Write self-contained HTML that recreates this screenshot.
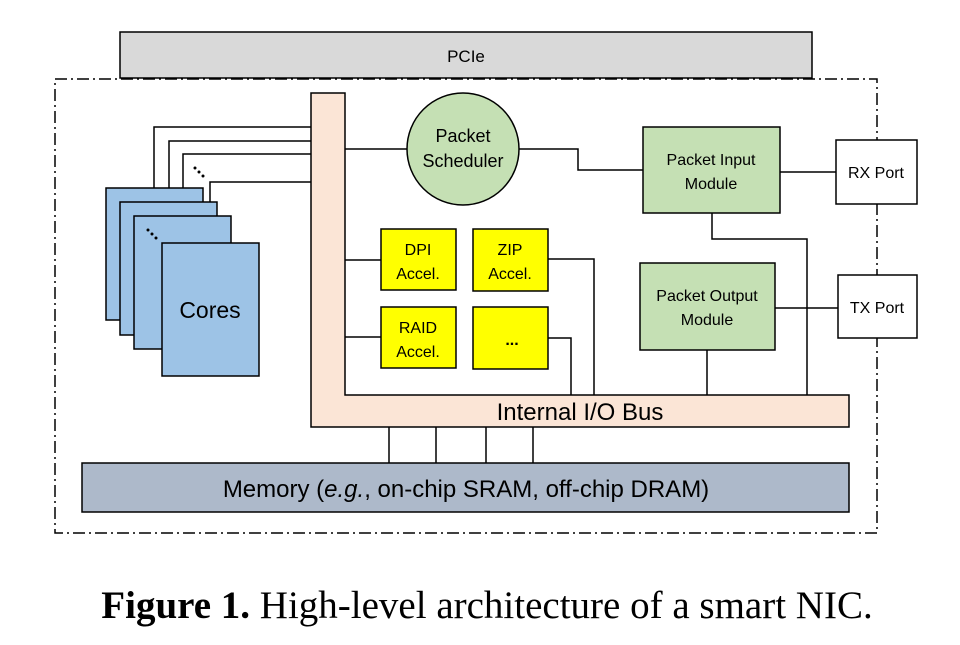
<!DOCTYPE html>
<html><head><meta charset="utf-8"><style>
body{margin:0;background:#fff;width:960px;height:640px;overflow:hidden}
text{font-family:"Liberation Sans",sans-serif;fill:#000}
</style></head><body>
<svg width="960" height="640" viewBox="0 0 960 640" xmlns="http://www.w3.org/2000/svg">
<rect x="120" y="32" width="692" height="46" fill="#d9d9d9" stroke="#000" stroke-width="1.5"/>
<text x="466" y="62" font-size="17" text-anchor="middle">PCIe</text>
<rect x="55" y="79" width="822" height="454" fill="none" stroke="#000" stroke-width="1.5" stroke-dasharray="12,4,2,4"/>
<g stroke="#000" stroke-width="1.5" fill="none">
<polyline points="154,188 154,127 311,127"/>
<polyline points="169,202 169,141 311,141"/>
<polyline points="183,216 183,154 311,154"/>
<polyline points="210,243 210,182 311,182"/>
</g>
<g stroke="#000" stroke-width="1.5" fill="#9dc3e6">
<rect x="106" y="188" width="97" height="132"/>
<rect x="120" y="202" width="97" height="133"/>
<rect x="134" y="216" width="97" height="133"/>
<rect x="162" y="243" width="97" height="133"/>
</g>
<g fill="#000"><circle cx="195" cy="168" r="1.5"/><circle cx="199" cy="172" r="1.5"/><circle cx="203" cy="176" r="1.5"/>
<circle cx="148" cy="230" r="1.5"/><circle cx="152" cy="234" r="1.5"/><circle cx="156" cy="238" r="1.5"/></g>
<text x="210" y="318" font-size="23" text-anchor="middle">Cores</text>
<polygon points="311,93 345,93 345,395 849,395 849,427 311,427" fill="#fbe5d6" stroke="#000" stroke-width="1.5"/>
<text x="580" y="420" font-size="24" text-anchor="middle">Internal I/O Bus</text>
<g stroke="#000" stroke-width="1.5" fill="none">
<line x1="345" y1="149" x2="407" y2="149"/>
<polyline points="519,149 578,149 578,170 643,170"/>
<line x1="345" y1="260" x2="381" y2="260"/>
<line x1="345" y1="337" x2="381" y2="337"/>
<polyline points="548,259 594,259 594,395"/>
<polyline points="548,338 571,338 571,395"/>
<line x1="775" y1="308" x2="838" y2="308"/>
<line x1="707" y1="350" x2="707" y2="395"/>
<polyline points="712,213 712,239 807,239 807,395"/>
<line x1="780" y1="172" x2="836" y2="172"/>
<line x1="389" y1="427" x2="389" y2="463"/><line x1="436" y1="427" x2="436" y2="463"/>
<line x1="486" y1="427" x2="486" y2="463"/><line x1="533" y1="427" x2="533" y2="463"/>
</g>
<circle cx="463" cy="149" r="56" fill="#c5e0b4" stroke="#000" stroke-width="1.5"/>
<text x="463" y="142" font-size="18" text-anchor="middle">Packet</text>
<text x="463" y="167" font-size="18" text-anchor="middle">Scheduler</text>
<g stroke="#000" stroke-width="1.5" fill="#ffff00">
<rect x="381" y="229" width="75" height="61"/><rect x="473" y="229" width="75" height="62"/>
<rect x="381" y="307" width="75" height="61"/><rect x="473" y="307" width="75" height="62"/>
</g>
<g font-size="16" text-anchor="middle">
<text x="418" y="255">DPI</text><text x="418" y="279">Accel.</text>
<text x="510" y="255">ZIP</text><text x="510" y="279">Accel.</text>
<text x="418" y="333">RAID</text><text x="418" y="357">Accel.</text>
<text x="512" y="345" font-weight="bold">...</text></g>
<rect x="643" y="127" width="137" height="86" fill="#c5e0b4" stroke="#000" stroke-width="1.5"/>
<text x="711" y="165" font-size="16" text-anchor="middle">Packet Input</text>
<text x="711" y="189" font-size="16" text-anchor="middle">Module</text>
<rect x="640" y="263" width="135" height="87" fill="#c5e0b4" stroke="#000" stroke-width="1.5"/>
<text x="707" y="301" font-size="16" text-anchor="middle">Packet Output</text>
<text x="707" y="325" font-size="16" text-anchor="middle">Module</text>
<rect x="836" y="140" width="81" height="64" fill="#fff" stroke="#000" stroke-width="1.5"/>
<text x="876" y="178" font-size="16" text-anchor="middle">RX Port</text>
<rect x="838" y="275" width="79" height="63" fill="#fff" stroke="#000" stroke-width="1.5"/>
<text x="877" y="313" font-size="16" text-anchor="middle">TX Port</text>
<rect x="82" y="463" width="767" height="49" fill="#adb9ca" stroke="#000" stroke-width="1.5"/>
<text x="466" y="497" font-size="24" text-anchor="middle">Memory (<tspan font-style="italic">e.g.</tspan>, on-chip SRAM, off-chip DRAM)</text>
<text x="487" y="618" font-size="39" text-anchor="middle" style="font-family:'Liberation Serif',serif"><tspan font-weight="bold">Figure 1.</tspan> High-level architecture of a smart NIC.</text>
</svg>
</body></html>
